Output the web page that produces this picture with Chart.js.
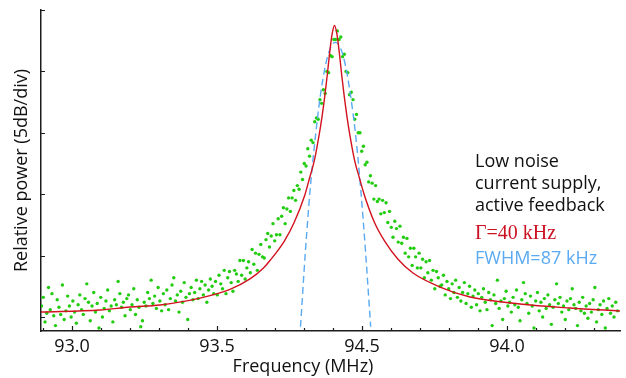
<!DOCTYPE html>
<html>
<head>
<meta charset="utf-8">
<title>Laser linewidth spectrum</title>
<script src="https://cdn.jsdelivr.net/npm/chart.js@4.4.0/dist/chart.umd.min.js"></script>
<style>
    html, body { margin: 0; padding: 0; background: #fff; }
    #wrap { width: 626px; height: 378px; }
</style>
</head>
<body>
<div id="wrap"><canvas id="spectrumChart" width="626" height="378"></canvas></div>
<script>
// Axis ticks (MHz). The figure labels its ticks in this (odd) order.
const xTickValues = [93.0, 93.5, 94.0, 94.5];
const xTickLabels = ['93.0', '93.5', '94.5', '94.0'];
const xMinorTicks = [92.9, 93.1, 93.2, 93.3, 93.4, 93.6, 93.7, 93.8, 93.9, 94.1, 94.2, 94.3, 94.4, 94.6, 94.7, 94.8];
// 5 dB per division, no labels.
const yTickValues = [0, 5, 10, 15, 20, 25];

// Measured spectrum (dB), swept from measStart in steps of measStep MHz.
const measStart = 92.895;
const measStep = 0.006;
const measPower = [
    0.9, 1.6, -0.4, 0.3, 2.4, 0.6, 1.9, 0.1, -0.7, 1.4, 0.8, 0.2, 2.6, -0.2, 0.5, 1.7, 0.9, 0.0, 1.3, 0.4,
    -0.5, 1.0, 1.8, 0.6, 0.2, 1.5, 2.7, 1.2, -0.3, 0.9, 2.0, 0.4, 1.1, -0.9, 1.6, 0.0, 0.7, 1.3, 2.2, 0.5,
    0.9, -0.4, 1.4, 1.0, 2.9, 1.9, 0.8, 1.2, 0.1, 1.5, 1.8, 0.6, 1.0, 2.3, 0.2, 1.4, 0.8, -0.8, -0.3, 1.2,
    0.9, 2.0, 1.5, 3.0, 1.1, 1.7, 0.7, 2.4, 1.3, 0.5, 1.9, 1.0, 2.2, 0.6, 1.5, 2.6, 3.2, 1.3, 1.8, 0.4,
    2.1, 1.2, 2.8, 1.6, -0.2, 1.9, 2.4, 1.4, 2.0, 3.0, 1.5, 2.3, 2.9, 1.8, 2.6, 1.2, 2.2, 3.1, 2.5, 1.9,
    2.9, 1.8, 3.4, 2.7, 2.3, 3.8, 1.9, 3.2, 3.7, 2.8, 2.1, 3.8, 3.5, 2.9, 4.6, 3.4, 4.6, 3.1, 4.0, 4.5,
    3.6, 5.5, 4.3, 5.2, 3.8, 5.1, 5.9, 4.9, 4.8, 6.3, 6.8, 5.7, 6.6, 7.6, 6.2, 6.7, 8.0, 6.7, 8.2, 8.9,
    7.6, 8.8, 9.7, 8.6, 9.7, 10.3, 9.5, 10.7, 10.4, 11.8,
    11.2, 12.5, 12.3, 13.7, 13.1, 14.4, 14.2, 15.9, 16.2, 16.1, 17.7, 17.4, 18.5, 18.2, 20.0, 19.9, 21.3, 21.2, 22.6, 22.6,
    23.3, 22.6, 22.8, 21.2, 21.4, 20.0, 19.9, 18.1, 18.3, 17.7, 16.1, 16.5, 15.0, 15.0, 13.5, 13.9, 12.4, 12.6, 11.0, 11.5,
    10.9, 9.6, 10.7, 9.4, 9.6, 8.4, 9.5, 8.5, 9.3, 7.7, 8.6, 7.3, 6.5, 7.8, 7.2, 6.1, 7.4, 6.0, 6.5, 5.2,
    6.4, 4.9, 5.6, 4.2, 5.6, 4.9, 4.0, 5.2, 4.0, 4.7, 3.2, 4.5, 3.6, 4.6, 3.0, 3.8, 2.3, 3.7, 3.2, 2.5,
    2.6, 3.4, 1.8, 2.9, 2.3, 1.5, 2.7, 2.0, 3.0, 1.6, 2.4, 1.3, 2.0, 2.8, 1.1, 1.9, 2.5, 0.8, 1.7, 2.2,
    1.0, 1.9, 0.5, 1.6, 2.3, 1.2, 0.6, 2.0, 1.4, -0.7, 1.8, 1.1, 3.0, 0.7, 1.3, -0.2, 1.5, 2.1, 0.9, 1.2,
    0.4, 1.6, 1.0, 2.2, 0.8, -0.3, 1.4, 2.8, 1.9, 1.1, 0.3, 1.7, 0.9, -0.9, 1.3, 2.0, 0.5, 1.2, 0.0, 1.5,
    0.7, 1.8, 1.0, -0.6, 0.8, 1.4, 2.7, 1.1, 1.6, 0.4,
    0.9, -0.2, 1.3, 0.6, 1.5, 2.3, 1.0, 0.7, -0.7, 1.2, 0.5, 1.6, 0.3, 0.9, -0.1, 1.1, 0.4, 1.4, 2.4, -0.4,
    0.6, 1.0, 0.2, 1.3, -0.9, 0.7, 1.5, 0.3, 0.9, 0.0, 1.2, 0.5
];

// Lorentzian fit (red).
const lorentzFreq = [92.8931, 93.0966, 93.2000, 93.3034, 93.4414, 93.5448, 93.6138, 93.6586, 93.6828,
    93.7328, 93.7672, 93.8017, 93.8190, 93.8362, 93.8534, 93.8621, 93.8707, 93.8793, 93.8879, 93.8966,
    93.9052,
    93.9138, 93.9224, 93.9310, 93.9397, 93.9483, 93.9569, 93.9741, 93.9914, 94.0086, 94.0431, 94.0776,
    94.1241, 94.1759, 94.2690, 94.3724, 94.5448, 94.7172, 94.8897];
const lorentzPower = [0.41, 0.57, 0.81, 0.98, 1.54, 2.25, 3.1, 3.95, 4.6,
    6.2, 7.75, 9.85, 11.3, 12.8, 15.0, 16.3, 17.8, 19.5, 21.4, 23.0,
    23.74,
    23.0, 21.4, 19.5, 17.8, 16.3, 15.0, 12.8, 11.3, 9.9, 7.7, 6.2,
    4.7, 3.58, 2.44, 1.63, 1.06, 0.73, 0.49];

// Gaussian fit (blue dashed).
const gaussFreq = [93.788, 93.805, 93.822, 93.840, 93.857, 93.874, 93.891, 93.909, 93.926, 93.943, 93.960, 93.978, 93.995, 94.012, 94.030];
const gaussPower = [-0.8, 5.39, 10.58, 14.82, 18.12, 20.48, 21.89, 22.36, 21.89, 20.48, 18.12, 14.82, 10.58, 5.39, -0.8];

// Annotation text
const noteLines = ['Low noise', 'current supply,', 'active feedback'];
const lorentzNote = 'Γ=40 kHz';
const gaussNote = 'FWHM=87 kHz';

var SPECTRUM = (function(document) {
    let pub = {};

    const axisColor = '#1c1c1c';
    const textColor = '#111111';
    const sans = '"Open Sans", "Noto Sans", sans-serif';

    // Helper to zip two arrays into {x, y} points.
    const toPoints = (xs, ys) => xs.map((x, i) => ({x: x, y: ys[i]}));

    // Inward tick marks, x title and the text block on the right.
    const decorations = {
        id: 'decorations',
        afterDraw: (chart) => {
            const ctx = chart.ctx,
                xs = chart.scales.x,
                ys = chart.scales.y,
                area = chart.chartArea;

            ctx.save();
            ctx.strokeStyle = axisColor;
            ctx.lineWidth = 1.2;
            ctx.beginPath();
            xMinorTicks.forEach((v) => {
                const px = Math.round(xs.getPixelForValue(v)) + 0.5;
                ctx.moveTo(px, area.bottom);
                ctx.lineTo(px, area.bottom - 3);
            });
            xTickValues.forEach((v) => {
                const px = Math.round(xs.getPixelForValue(v)) + 0.5;
                ctx.moveTo(px, area.bottom);
                ctx.lineTo(px, area.bottom - 5);
            });
            yTickValues.forEach((v) => {
                const py = Math.round(ys.getPixelForValue(v)) + 0.5;
                ctx.moveTo(area.left, py);
                ctx.lineTo(area.left + 4, py);
            });
            ctx.stroke();

            // x axis title
            ctx.fillStyle = textColor;
            ctx.font = '18px ' + sans;
            ctx.textAlign = 'center';
            ctx.textBaseline = 'alphabetic';
            ctx.fillText('Frequency (MHz)', 303, 372);

            // notes
            ctx.textAlign = 'left';
            noteLines.forEach((line, i) => {
                ctx.fillText(line, 475, 167 + i * 22);
            });
            ctx.fillStyle = '#cc1122';
            ctx.font = '20px "Liberation Serif", "DejaVu Serif", serif';
            ctx.fillText(lorentzNote, 475, 239);
            ctx.fillStyle = '#5aaaf2';
            ctx.font = '18px ' + sans;
            ctx.fillText(gaussNote, 475, 264);
            ctx.restore();
        }
    };

    // Create the chart
    pub.createChart = () => {
        const ctx = document.getElementById('spectrumChart').getContext('2d');
        pub.chart = new Chart(ctx, {
            type: 'scatter',
            data: {
                datasets: [{
                    type: 'line',
                    data: toPoints(lorentzFreq, lorentzPower),
                    borderColor: '#d2121f',
                    borderWidth: 1.4,
                    pointRadius: 0,
                    cubicInterpolationMode: 'monotone',
                    order: 1
                }, {
                    type: 'line',
                    data: toPoints(gaussFreq, gaussPower),
                    borderColor: '#5aaaf2',
                    borderWidth: 1.4,
                    borderDash: [7, 4],
                    pointRadius: 0,
                    cubicInterpolationMode: 'monotone',
                    order: 2
                }, {
                    data: measPower.map((p, i) => ({x: measStart + i * measStep, y: p})),
                    backgroundColor: '#22cc11',
                    borderWidth: 0,
                    pointRadius: 1.7,
                    order: 3
                }]
            },
            options: {
                responsive: false,
                animation: false,
                devicePixelRatio: 1,
                layout: {
                    padding: {top: 10, right: 6, left: 0, bottom: 0}
                },
                plugins: {
                    legend: {display: false},
                    tooltip: {enabled: false}
                },
                scales: {
                    x: {
                        type: 'linear',
                        min: 92.8931,
                        max: 94.8897,
                        afterFit: (scale) => { scale.height = 47; },
                        afterBuildTicks: (scale) => {
                            scale.ticks = xTickValues.map((v) => ({value: v}));
                        },
                        grid: {display: false, drawTicks: false},
                        border: {display: true, color: axisColor, width: 1.5},
                        ticks: {
                            callback: (v, i) => xTickLabels[i],
                            autoSkip: false,
                            maxRotation: 0,
                            padding: 5,
                            color: textColor,
                            font: {family: sans, size: 18}
                        }
                    },
                    y: {
                        min: -1.14,
                        max: 25,
                        afterFit: (scale) => { scale.width = 41; },
                        grid: {display: false, drawTicks: false},
                        border: {display: true, color: axisColor, width: 1.5},
                        ticks: {display: false},
                        title: {
                            display: true,
                            text: 'Relative power (5dB/div)',
                            color: textColor,
                            font: {family: sans, size: 18},
                            padding: {top: 11, bottom: 0}
                        }
                    }
                }
            },
            plugins: [decorations]
        });
    };

    pub.createChart();

    return pub;
}(document));
</script>
</body>
</html>
